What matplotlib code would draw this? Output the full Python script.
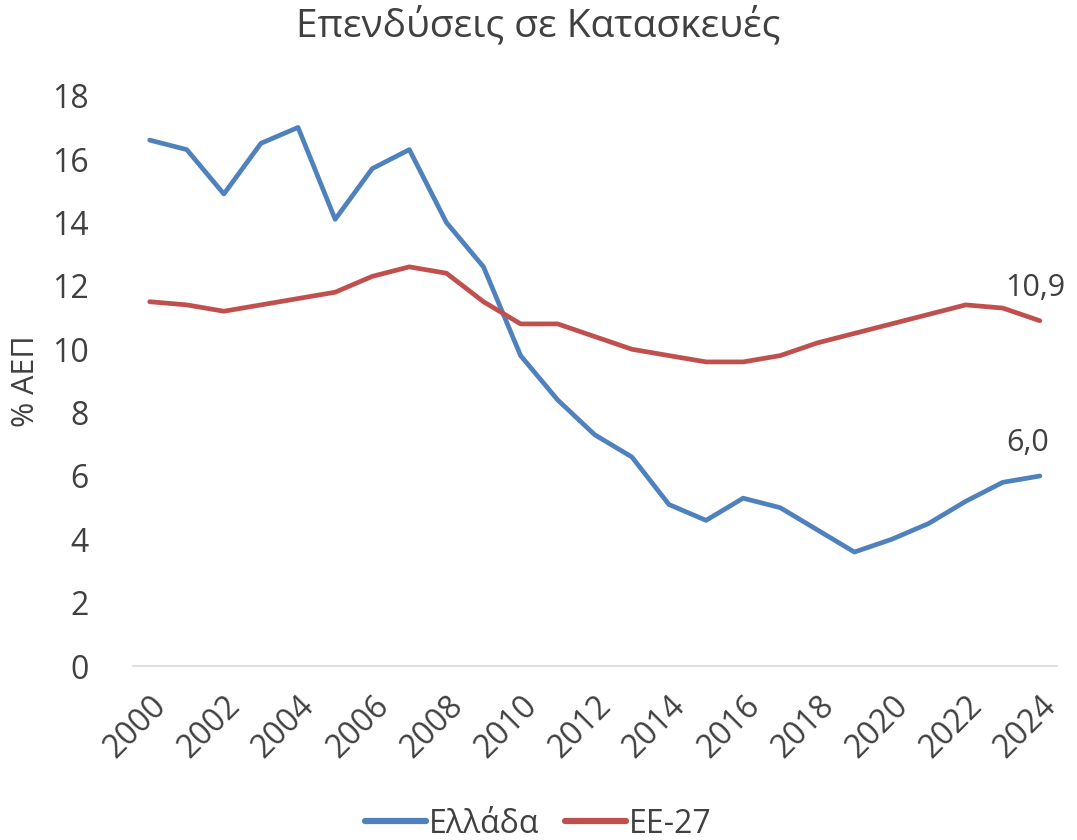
import matplotlib.pyplot as plt
import numpy as np

plt.rcParams['font.family'] = ['Open Sans', 'DejaVu Sans']

# Δεδομένα
years = list(range(2000, 2025))
greece = [16.6, 16.3, 14.9, 16.5, 17.0, 14.1, 15.7, 16.3, 14.0, 12.6,
          9.8, 8.4, 7.3, 6.6, 5.1, 4.6, 5.3, 5.0, 4.3, 3.6,
          4.0, 4.5, 5.2, 5.8, 6.0]
eu27 = [11.5, 11.4, 11.2, 11.4, 11.6, 11.8, 12.3, 12.6, 12.4, 11.5,
        10.8, 10.8, 10.4, 10.0, 9.8, 9.6, 9.6, 9.8, 10.2, 10.5,
        10.8, 11.1, 11.4, 11.3, 10.9]
series_names = ['Ελλάδα', 'ΕΕ-27']
xtick_years = years[::2]

text_color = '#404040'

fig = plt.figure(figsize=(10.77, 8.4), dpi=100)
ax = fig.add_axes([0.1235, 0.207, 0.8575, 0.679])

ax.plot(years, greece, color='#4F81BD', lw=3.4, label=series_names[0], solid_capstyle='round')
ax.plot(years, eu27, color='#C0504D', lw=3.4, label=series_names[1], solid_capstyle='round')

# Ετικέτες τελευταίων τιμών
ax.annotate(f'{eu27[-1]:.1f}'.replace('.', ','), (years[-1], eu27[-1]),
            xytext=(-3, 13), textcoords='offset points', ha='center', va='bottom',
            fontsize=22, color=text_color)
ax.annotate(f'{greece[-1]:.1f}'.replace('.', ','), (years[-1], greece[-1]),
            xytext=(-9, 13), textcoords='offset points', ha='center', va='bottom',
            fontsize=22, color=text_color)

ax.set_xlim(1999.55, 2024.45)
ax.set_ylim(0, 18)
ax.set_yticks(np.arange(0, 19, 2))
ax.set_xticks(xtick_years)
ax.set_xticklabels([str(y) for y in xtick_years], rotation=45, ha='right',
                   rotation_mode='anchor', fontsize=23, color=text_color)
ax.tick_params(axis='y', labelsize=23, colors=text_color, length=0, pad=32)
ax.tick_params(axis='x', length=0, pad=17)

for s in ['top', 'right', 'left']:
    ax.spines[s].set_visible(False)
ax.spines['bottom'].set_color('#d9d9d9')
ax.spines['bottom'].set_linewidth(1.2)

ax.set_ylabel('% ΑΕΠ', fontsize=22, color=text_color)
ax.yaxis.set_label_coords(-0.1, 0.5)

fig.suptitle('Επενδύσεις σε Κατασκευές', fontsize=28, color=text_color, y=0.993)

leg = fig.legend(loc='lower center', ncol=2, frameon=False, fontsize=23,
                 bbox_to_anchor=(0.5, -0.035), handlelength=1.9, handletextpad=0.1,
                 columnspacing=0.8, labelcolor=text_color)
for line in leg.get_lines():
    line.set_linewidth(4.5)

plt.savefig('out.png', dpi=100)
plt.close()
